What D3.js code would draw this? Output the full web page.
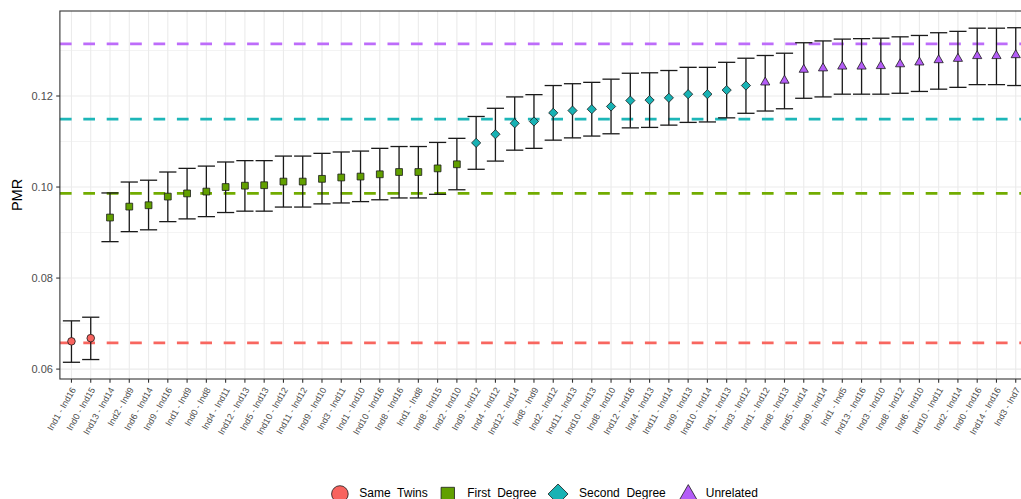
<!DOCTYPE html>
<html>
<head>
<meta charset="utf-8">
<script src="https://cdn.jsdelivr.net/npm/d3@7"></script>
<style>
  html, body { margin: 0; padding: 0; background: #ffffff; overflow: hidden; }
  svg { display: block; font-family: "Liberation Sans", Arial, sans-serif; }
</style>
</head>
<body>
<svg id="chart" width="1021" height="499"></svg>
<script>
// Pair labels, ordered by PMR
const categories = [
  "Ind1 - Ind16", "Ind0 - Ind15", "Ind13 - Ind14", "Ind2 - Ind9", "Ind6 - Ind14",
  "Ind9 - Ind16", "Ind1 - Ind9", "Ind0 - Ind8", "Ind4 - Ind11", "Ind12 - Ind13",
  "Ind5 - Ind13", "Ind10 - Ind12", "Ind11 - Ind12", "Ind9 - Ind10", "Ind3 - Ind11",
  "Ind1 - Ind10", "Ind10 - Ind16", "Ind8 - Ind16", "Ind1 - Ind8", "Ind8 - Ind15",
  "Ind2 - Ind10", "Ind9 - Ind12", "Ind4 - Ind12", "Ind12 - Ind14", "Ind8 - Ind9",
  "Ind2 - Ind12", "Ind11 - Ind13", "Ind10 - Ind13", "Ind8 - Ind10", "Ind12 - Ind16",
  "Ind4 - Ind13", "Ind11 - Ind14", "Ind9 - Ind13", "Ind10 - Ind14", "Ind1 - Ind13",
  "Ind3 - Ind12", "Ind1 - Ind12", "Ind8 - Ind13", "Ind5 - Ind14", "Ind9 - Ind14",
  "Ind1 - Ind5", "Ind13 - Ind16", "Ind3 - Ind10", "Ind8 - Ind12", "Ind6 - Ind10",
  "Ind10 - Ind11", "Ind2 - Ind14", "Ind0 - Ind16", "Ind14 - Ind16", "Ind3 - Ind7"
];

// Relationship of each pair
const relationships = ["Same  Twins", "First  Degree", "Second  Degree", "Unrelated"];
const relationOfPair = [
  0, 0,
  1, 1, 1, 1, 1, 1, 1, 1, 1, 1, 1, 1, 1, 1, 1, 1, 1, 1, 1,
  2, 2, 2, 2, 2, 2, 2, 2, 2, 2, 2, 2, 2, 2, 2,
  3, 3, 3, 3, 3, 3, 3, 3, 3, 3, 3, 3, 3, 3
];

// PMR estimate with lower / upper interval bounds
const pmr = [
  0.0661, 0.0668, 0.0933, 0.0957, 0.0960, 0.0979, 0.0986, 0.0990, 0.1000, 0.1003,
  0.1004, 0.1012, 0.1012, 0.1018, 0.1021, 0.1023, 0.1028, 0.1033, 0.1033, 0.1041,
  0.1050, 0.1097, 0.1116, 0.1140, 0.1144, 0.1163, 0.1168, 0.1171, 0.1177, 0.1190,
  0.1191, 0.1196, 0.1204, 0.1204, 0.1213, 0.1223, 0.1230, 0.1234, 0.1258, 0.1261,
  0.1265, 0.1265, 0.1266, 0.1270, 0.1274, 0.1279, 0.1282, 0.1288, 0.1288, 0.1290
];
const lower = [
  0.0615, 0.0621, 0.0880, 0.0902, 0.0906, 0.0924, 0.0930, 0.0935, 0.0944, 0.0947,
  0.0947, 0.0956, 0.0956, 0.0963, 0.0965, 0.0968, 0.0972, 0.0976, 0.0976, 0.0984,
  0.0994, 0.1039, 0.1057, 0.1081, 0.1085, 0.1103, 0.1108, 0.1112, 0.1117, 0.1130,
  0.1131, 0.1136, 0.1142, 0.1143, 0.1152, 0.1162, 0.1167, 0.1172, 0.1195, 0.1198,
  0.1204, 0.1204, 0.1204, 0.1206, 0.1210, 0.1215, 0.1219, 0.1225, 0.1225, 0.1223
];
const upper = [
  0.0706, 0.0714, 0.0987, 0.1011, 0.1015, 0.1033, 0.1041, 0.1046, 0.1055, 0.1058,
  0.1058, 0.1068, 0.1068, 0.1074, 0.1077, 0.1079, 0.1085, 0.1089, 0.1089, 0.1098,
  0.1107, 0.1155, 0.1173, 0.1198, 0.1203, 0.1223, 0.1227, 0.1230, 0.1237, 0.1250,
  0.1251, 0.1256, 0.1263, 0.1263, 0.1274, 0.1283, 0.1289, 0.1294, 0.1317, 0.1321,
  0.1325, 0.1326, 0.1327, 0.1330, 0.1333, 0.1339, 0.1342, 0.1349, 0.1349, 0.1350
];

// Reference level per relationship
const referenceLevels = [0.06575, 0.0986, 0.1149, 0.13147];

const yTicks = [0.06, 0.08, 0.10, 0.12];
const yMinorTicks = [0.07, 0.09, 0.11, 0.13];

const colors = ["#F8635E", "#62A000", "#18B2B4", "#B45DF7"];
const lineColors = ["#F8665F", "#72AC00", "#1DB6B8", "#BD6CFA"];

const svg = d3.select("#chart");
const W = 1021, H = 499;
svg.append("rect").attr("width", W).attr("height", H).attr("fill", "#ffffff");

const panel = { left: 59.9, right: 1027.3, top: 11, bottom: 379 };

const x = d3.scalePoint()
  .domain(categories)
  .range([panel.left, panel.right])
  .padding(0.6);

const lo = d3.min(lower), hi = d3.max(upper);
const span = hi - lo;
const y = d3.scaleLinear()
  .domain([lo - 0.05 * span, hi + 0.05 * span])
  .range([panel.bottom, panel.top]);

const g = svg.append("g");

// Grid
g.selectAll("line.minor").data(yMinorTicks).join("line")
  .attr("x1", panel.left).attr("x2", panel.right)
  .attr("y1", d => y(d)).attr("y2", d => y(d))
  .attr("stroke", "#EBEBEB").attr("stroke-width", 0.6);
g.selectAll("line.majory").data(yTicks).join("line")
  .attr("x1", panel.left).attr("x2", panel.right)
  .attr("y1", d => y(d)).attr("y2", d => y(d))
  .attr("stroke", "#EBEBEB").attr("stroke-width", 1.1);
g.selectAll("line.majorx").data(categories).join("line")
  .attr("x1", d => x(d)).attr("x2", d => x(d))
  .attr("y1", panel.top).attr("y2", panel.bottom)
  .attr("stroke", "#EBEBEB").attr("stroke-width", 1.1);

// Dashed reference lines
g.selectAll("line.ref").data(referenceLevels).join("line")
  .attr("x1", panel.left).attr("x2", panel.right)
  .attr("y1", d => y(d)).attr("y2", d => y(d))
  .attr("stroke", (d, i) => lineColors[i])
  .attr("stroke-width", 2.7)
  .attr("stroke-dasharray", "11.7 11.7");

// Error bars
const capHalf = 8.6;
const bars = g.append("g").attr("stroke", "#1a1a1a").attr("stroke-width", 1.3).attr("fill", "none");
categories.forEach((c, i) => {
  const cx = x(c);
  bars.append("line").attr("x1", cx).attr("x2", cx).attr("y1", y(lower[i])).attr("y2", y(upper[i]));
  bars.append("line").attr("x1", cx - capHalf).attr("x2", cx + capHalf).attr("y1", y(lower[i])).attr("y2", y(lower[i]));
  bars.append("line").attr("x1", cx - capHalf).attr("x2", cx + capHalf).attr("y1", y(upper[i])).attr("y2", y(upper[i]));
});

// Marker shapes
function shapePath(kind, s) {
  if (kind === 0) {
    return d3.arc()({ innerRadius: 0, outerRadius: s, startAngle: 0, endAngle: 2 * Math.PI });
  }
  if (kind === 1) {
    return `M${-s},${-s}L${s},${-s}L${s},${s}L${-s},${s}Z`;
  }
  if (kind === 2) {
    return `M0,${-s}L${s},0L0,${s}L${-s},0Z`;
  }
  const hw = s * 0.866;
  return `M0,${-s}L${hw},${s / 2}L${-hw},${s / 2}Z`;
}
const markerSize = [3.8, 3.4, 4.6, 5.3];

g.selectAll("path.pt").data(categories).join("path")
  .attr("transform", (d, i) => `translate(${x(d)},${y(pmr[i])})`)
  .attr("d", (d, i) => shapePath(relationOfPair[i], markerSize[relationOfPair[i]]))
  .attr("fill", (d, i) => colors[relationOfPair[i]])
  .attr("stroke", "#1a1a1a").attr("stroke-width", 0.8);

// Panel border
svg.append("rect")
  .attr("x", panel.left).attr("y", panel.top)
  .attr("width", panel.right - panel.left).attr("height", panel.bottom - panel.top)
  .attr("fill", "none").attr("stroke", "#333333").attr("stroke-width", 1.1);

// Y axis
const yAxis = svg.append("g");
yAxis.selectAll("line").data(yTicks).join("line")
  .attr("x1", panel.left - 3.7).attr("x2", panel.left)
  .attr("y1", d => y(d)).attr("y2", d => y(d))
  .attr("stroke", "#333333").attr("stroke-width", 1.1);
yAxis.selectAll("text").data(yTicks).join("text")
  .attr("x", panel.left - 7).attr("y", d => y(d))
  .attr("dy", "0.36em")
  .attr("text-anchor", "end")
  .attr("font-size", 11)
  .attr("fill", "#4D4D4D")
  .text(d => d3.format(".2f")(d));

svg.append("text")
  .attr("transform", `translate(22,${(panel.top + panel.bottom) / 2}) rotate(-90)`)
  .attr("text-anchor", "middle")
  .attr("font-size", 14.5)
  .attr("fill", "#000000")
  .text("PMR");

// X axis
const xAxis = svg.append("g");
xAxis.selectAll("line").data(categories).join("line")
  .attr("x1", d => x(d)).attr("x2", d => x(d))
  .attr("y1", panel.bottom).attr("y2", panel.bottom + 3.7)
  .attr("stroke", "#333333").attr("stroke-width", 1.1);
xAxis.selectAll("text").data(categories).join("text")
  .attr("transform", d => `translate(${x(d) + 2},${panel.bottom + 9}) rotate(-60)`)
  .attr("text-anchor", "end")
  .attr("dy", "0.35em")
  .attr("font-size", 9)
  .attr("fill", "#4D4D4D")
  .text(d => d);

// Legend
const legend = svg.append("g");
const legendSize = [8.3, 6.7, 10, 12.4];
const keyOffset = [8.5, 8.5, 10, 11];
const textGap = [19.4, 19.4, 21, 17.5];
const legendY = 494;
let cursor = 0;
relationships.forEach((name, i) => {
  const item = legend.append("g");
  const keyCx = cursor + keyOffset[i];
  item.append("path")
    .attr("transform", `translate(${keyCx},${legendY + (i === 3 ? 3 : 0)})`)
    .attr("d", shapePath(i, legendSize[i]))
    .attr("fill", colors[i])
    .attr("stroke", "#1a1a1a").attr("stroke-width", 0.8);
  const t = item.append("text")
    .attr("x", keyCx + textGap[i])
    .attr("y", legendY + 3.4)
    .attr("font-size", 12)
    .attr("fill", "#000000")
    .style("white-space", "pre")
    .text(name);
  const w = t.node().getComputedTextLength();
  cursor = keyCx + textGap[i] + w + 11.5;
});
const legendWidth = cursor - 11.5;
legend.attr("transform", `translate(${(panel.left + panel.right) / 2 + 1 - legendWidth / 2},0)`);
</script>
</body>
</html>
